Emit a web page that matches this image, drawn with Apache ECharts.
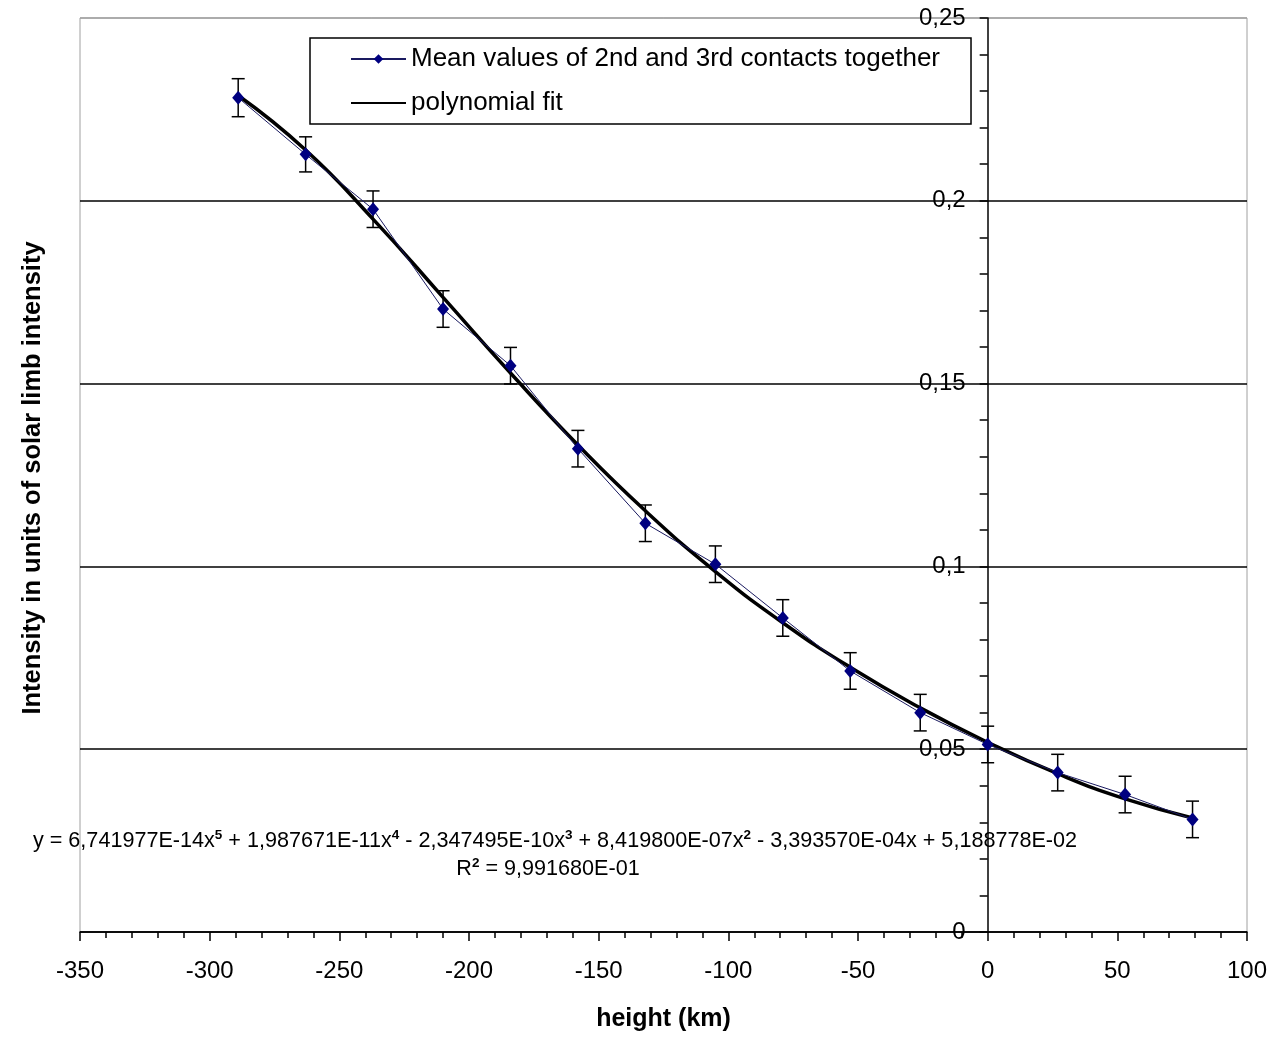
<!DOCTYPE html>
<html><head><meta charset="utf-8">
<script src="https://cdn.jsdelivr.net/npm/echarts@6/dist/echarts.min.js"></script>
<style>html,body{margin:0;padding:0;background:#fff}#c{width:1272px;height:1037px}</style>
</head><body><div id="c"></div>
<script>
// ---- data ----
const heightKm      = [-289, -263, -237, -210, -184, -158, -132, -105, -79, -53, -26, 0, 27, 53, 79];
const meanIntensity = [0.2282, 0.2127, 0.1977, 0.1704, 0.1549, 0.1322, 0.1118, 0.1006, 0.0859, 0.0714, 0.0600, 0.0513, 0.0436, 0.0376, 0.0308];
const errorHalf     = [0.0052, 0.0048, 0.0050, 0.0050, 0.0050, 0.0050, 0.0050, 0.0050, 0.0050, 0.0050, 0.0050, 0.0050, 0.0050, 0.0050, 0.0050];
const fitIntensity  = [0.2288, 0.2139, 0.1950, 0.1736, 0.1529, 0.1332, 0.1152, 0.0986, 0.0846, 0.0724, 0.0613, 0.0519, 0.0433, 0.0364, 0.0312];
const seriesNames   = ['Mean values of 2nd and 3rd contacts together', 'polynomial fit'];
const xAxisTitle    = 'height (km)';
const yAxisTitle    = 'Intensity in units of solar limb intensity';
const eqParts = [
  ['y = 6,741977E-14x', '5'], [' + 1,987671E-11x', '4'], [' - 2,347495E-10x', '3'],
  [' + 8,419800E-07x', '2'], [' - 3,393570E-04x + 5,188778E-02', '']
];
const r2Parts = [['R', '2'], [' = 9,991680E-01', '']];

const X_MIN = -350, X_MAX = 100;
const GRID = {left: 80, right: 25, top: 18, bottom: 102};
const PLOT_W = 1272 - GRID.left - GRID.right;
const Y_AXIS_AT = 0; // y axis crosses x = 0
const yAxisOffset = -PLOT_W * (Y_AXIS_AT - X_MIN) / (X_MAX - X_MIN);

const FONT = 'Arial, "Liberation Sans", sans-serif';
const meanData = heightKm.map((x, i) => [x, meanIntensity[i]]);
const fitData  = heightKm.map((x, i) => [x, fitIntensity[i]]);
const errData  = heightKm.map((x, i) => [x, meanIntensity[i] - errorHalf[i], meanIntensity[i] + errorHalf[i]]);

function richText(parts) {
  return parts.map(p => '{n|' + p[0] + '}' + (p[1] ? '{s|' + p[1] + '}' : '')).join('');
}
const richStyles = {
  n: {fontFamily: FONT, fontSize: 21.6, color: '#000', verticalAlign: 'bottom', lineHeight: 24},
  s: {fontFamily: FONT, fontSize: 13.5, fontWeight: 'bold', color: '#000', verticalAlign: 'top', lineHeight: 24}
};

const chart = echarts.init(document.getElementById('c'), null, {renderer: 'canvas'});
chart.setOption({
  animation: false,
  backgroundColor: '#fff',
  grid: Object.assign({show: true, borderColor: '#a0a0a0', borderWidth: 1, backgroundColor: 'transparent'}, GRID),
  legend: {
    left: 310, top: 38, orient: 'vertical',
    data: [{name: seriesNames[0]}, {name: seriesNames[1], itemStyle: {opacity: 0}}],
    itemWidth: 55, itemHeight: 12, itemGap: 18,
    padding: [8, 31, 8, 40],
    borderColor: '#000', borderWidth: 1.5, backgroundColor: '#fff',
    textStyle: {fontFamily: FONT, fontSize: 26, lineHeight: 25, color: '#000'}
  },
  xAxis: {
    type: 'value', min: X_MIN, max: X_MAX, interval: 50,
    name: xAxisTitle, nameLocation: 'middle', nameGap: 75,
    nameTextStyle: {fontFamily: FONT, fontSize: 25, fontWeight: 'bold', color: '#000'},
    axisLine: {onZero: true, lineStyle: {color: '#000', width: 1.5}},
    axisTick: {show: true, length: 9, lineStyle: {color: '#000', width: 1.5}},
    minorTick: {show: true, splitNumber: 5, length: 6, lineStyle: {color: '#000', width: 1.5}},
    axisLabel: {fontFamily: FONT, fontSize: 24, color: '#000', margin: 27},
    splitLine: {show: false}
  },
  yAxis: {
    type: 'value', min: 0, max: 0.25, interval: 0.05,
    offset: yAxisOffset,
    axisLine: {onZero: false, lineStyle: {color: '#000', width: 1.5}},
    axisTick: {show: true, length: 8, lineStyle: {color: '#000', width: 1.5}},
    minorTick: {show: true, splitNumber: 5, length: 8, lineStyle: {color: '#000', width: 1.5}},
    axisLabel: {fontFamily: FONT, fontSize: 24, color: '#000', margin: 22, padding: [3, 0, 0, 0],
      formatter: v => String(+v.toFixed(2)).replace('.', ',')},
    splitLine: {show: true, lineStyle: {color: ['#000', '#000', '#000', '#000', '#000', '#a0a0a0'], width: 1.5}}
  },
  series: [
    {
      name: 'errors', type: 'custom', data: errData, z: 2,
      encode: {x: 0, y: [1, 2]},
      renderItem: (params, api) => {
        const x = api.value(0);
        const lo = api.coord([x, api.value(1)]);
        const hi = api.coord([x, api.value(2)]);
        const w = 6.5;
        const st = {stroke: '#000', lineWidth: 1.5};
        return {type: 'group', children: [
          {type: 'line', shape: {x1: lo[0], y1: lo[1], x2: hi[0], y2: hi[1]}, style: st},
          {type: 'line', shape: {x1: lo[0] - w, y1: lo[1], x2: lo[0] + w, y2: lo[1]}, style: st},
          {type: 'line', shape: {x1: hi[0] - w, y1: hi[1], x2: hi[0] + w, y2: hi[1]}, style: st}
        ]};
      }
    },
    {
      name: seriesNames[1], type: 'line', data: fitData, smooth: 0.5, symbol: 'none', z: 3,
      lineStyle: {color: '#000', width: 3.5}, itemStyle: {color: '#000'}
    },
    {
      name: seriesNames[0], type: 'line', data: meanData, z: 4,
      symbol: 'diamond', symbolSize: [12, 14],
      lineStyle: {color: '#1a1a60', width: 1}, itemStyle: {color: '#000080'}
    }
  ],
  graphic: [
    {type: 'text', x: 33, y: 478, rotation: Math.PI / 2, style: {
      text: yAxisTitle, font: 'bold 25.5px ' + FONT, fill: '#000', align: 'center', verticalAlign: 'middle'}},
    {type: 'text', x: 555, y: 840, style: {
      text: richText(eqParts), align: 'center', verticalAlign: 'middle', fill: '#000', rich: richStyles}},
    {type: 'text', x: 548, y: 868, style: {
      text: richText(r2Parts), align: 'center', verticalAlign: 'middle', fill: '#000', rich: richStyles}}
  ]
});
</script></body></html>
